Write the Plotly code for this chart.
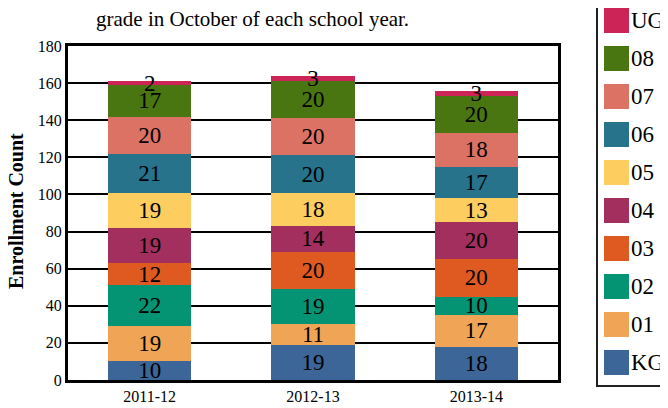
import plotly.graph_objects as go

years = ["2011-12", "2012-13", "2013-14"]
grades = ["KG", "01", "02", "03", "04", "05", "06", "07", "08", "UG"]
colors = ["#3c6698", "#f0a456", "#049473", "#de5a20", "#a32f5e",
          "#fdcd60", "#27738c", "#dc7263", "#4a7612", "#cc2457"]
values = {
    "KG": [10, 19, 18],
    "01": [19, 11, 17],
    "02": [22, 19, 10],
    "03": [12, 20, 20],
    "04": [19, 14, 20],
    "05": [19, 18, 13],
    "06": [21, 20, 17],
    "07": [20, 20, 18],
    "08": [17, 20, 20],
    "UG": [2, 3, 3],
}
y_ticks = [0, 20, 40, 60, 80, 100, 120, 140, 160, 180]
title_text = "grade in October of each school year."
y_title = "Enrollment Count"

FONT = "Liberation Serif"
OFF = 8  # page body margin
W, H = 668 - OFF, 408 - OFF
# plot area in page pixels: x 68..558, y 46..380
L, T = 68 - OFF, 46 - OFF
R, B = W - (558 - OFF), H - (380 - OFF)
pw, ph = W - L - R, H - T - B

def px_x(x):
    return (x - OFF - L) / pw

def px_y(y):
    return (H - B - (y - OFF)) / ph

fig = go.Figure()
for g, c in zip(grades, colors):
    fig.add_trace(go.Bar(
        x=years, y=values[g], name=g, marker=dict(color=c, line=dict(width=0)),
        text=[str(v) for v in values[g]], textposition="inside",
        insidetextanchor="middle", textangle=0, constraintext="none",
        textfont=dict(family=FONT, size=23, color="black"),
        showlegend=False,
    ))

shapes = []
annotations = []
# legend box
shapes.append(dict(type="rect", xref="paper", yref="paper",
                   x0=px_x(597), x1=px_x(690), y0=px_y(386), y1=px_y(-5),
                   line=dict(color="#222", width=2), fillcolor="white", layer="above"))
for i, (g, c) in enumerate(reversed(list(zip(grades, colors)))):
    top = 8 + 38 * i
    shapes.append(dict(type="rect", xref="paper", yref="paper",
                       x0=px_x(604), x1=px_x(629), y0=px_y(top + 25), y1=px_y(top),
                       line=dict(width=0), fillcolor=c, layer="above"))
    annotations.append(dict(x=px_x(629), y=px_y(top + 12.5), xref="paper", yref="paper",
                            text=g, showarrow=False, xanchor="left", yanchor="middle",
                            font=dict(family=FONT, size=23, color="black")))

annotations.append(dict(x=px_x(252), y=px_y(19), xref="paper", yref="paper",
                        text=title_text, showarrow=False, xanchor="center", yanchor="middle",
                        font=dict(family=FONT, size=21, color="black")))
annotations.append(dict(x=px_x(16), y=px_y(211), xref="paper", yref="paper",
                        text="<b>" + y_title + "</b>", showarrow=False, textangle=-90,
                        xanchor="center", yanchor="middle",
                        font=dict(family=FONT, size=20, color="black")))

fig.update_layout(
    width=W, height=H, barmode="stack", bargap=0.49,
    margin=dict(l=L, r=R, t=T, b=B, autoexpand=False),
    paper_bgcolor="white", plot_bgcolor="white",
    font=dict(family=FONT, color="black"),
    shapes=shapes, annotations=annotations,
    xaxis=dict(type="category", showline=True, linecolor="black", linewidth=3, mirror=True,
               tickfont=dict(family=FONT, size=16, color="black"), ticks="",
               showgrid=False, automargin=False),
    yaxis=dict(range=[0, 180], tickvals=y_ticks, showline=True, linecolor="black",
               linewidth=3, mirror=True, showgrid=True, gridcolor="black", gridwidth=2,
               tickfont=dict(family=FONT, size=16, color="black"), ticks="",
               automargin=False, zeroline=False),
)

fig.write_html("out.html")
